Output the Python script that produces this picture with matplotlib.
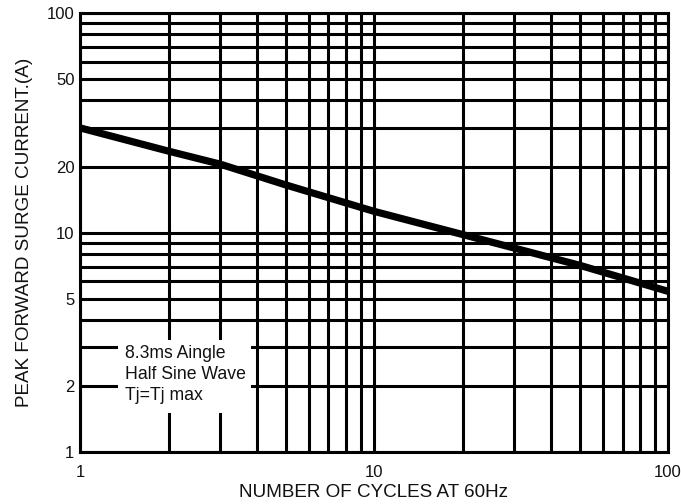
import numpy as np
import matplotlib
matplotlib.use('Agg')
import matplotlib.pyplot as plt
from matplotlib.ticker import FixedLocator, FixedFormatter, LogLocator, NullFormatter
from matplotlib.patches import Rectangle

# surge curve
cycles = [1, 2, 3, 5, 10, 20, 30, 50, 100]
surge_current = [30, 23.5, 20.5, 16.5, 12.5, 9.8, 8.5, 7.1, 5.4]

x_ticks = [1, 10, 100]
x_tick_labels = ['1', '10', '100']
y_ticks = [1, 2, 5, 10, 20, 50, 100]
y_tick_labels = ['1', '2', '5', '10', '20', '50', '100']

note = '8.3ms Aingle\nHalf Sine Wave\nTj=Tj max'

plt.rcParams['font.family'] = ['Liberation Sans', 'DejaVu Sans']

fig = plt.figure(figsize=(6.81, 5.04), dpi=100)
ax = fig.add_axes([0.1175, 0.103, 0.8635, 0.871])

ax.set_xscale('log')
ax.set_yscale('log')
ax.set_xlim(1, 100)
ax.set_ylim(1, 100)

ax.xaxis.set_major_locator(FixedLocator(x_ticks))
ax.xaxis.set_major_formatter(FixedFormatter(x_tick_labels))
ax.yaxis.set_major_locator(FixedLocator(y_ticks))
ax.yaxis.set_major_formatter(FixedFormatter(y_tick_labels))
for axis in (ax.xaxis, ax.yaxis):
    axis.set_minor_locator(LogLocator(base=10, subs=np.arange(1, 10)))
    axis.set_minor_formatter(NullFormatter())

ax.set_axisbelow(True)
ax.grid(which='both', color='black', linewidth=2.2)
ax.tick_params(which='both', length=0, labelsize=12, colors='#111111')
ax.tick_params(axis='x', pad=9)
ax.tick_params(axis='y', pad=4)
for sp in ax.spines.values():
    sp.set_linewidth(2.2)

ax.plot(cycles, surge_current, color='black', linewidth=5.2, solid_capstyle='butt', zorder=4)

ax.add_patch(Rectangle((0.0646, 0.0888), 0.2264, 0.1662, transform=ax.transAxes,
                       facecolor='white', edgecolor='none', zorder=2.5))
ax.text(0.0765, 0.243, note, transform=ax.transAxes, fontsize=12.7, va='top', ha='left',
        linespacing=1.3, color='#111111', zorder=3)

ax.set_xlabel('NUMBER OF CYCLES AT 60Hz', fontsize=13.6, labelpad=3, color='#111111')
ax.set_ylabel('PEAK FORWARD SURGE CURRENT.(A)', fontsize=13.6, labelpad=10, color='#111111')

fig.savefig('out.png', dpi=100)
